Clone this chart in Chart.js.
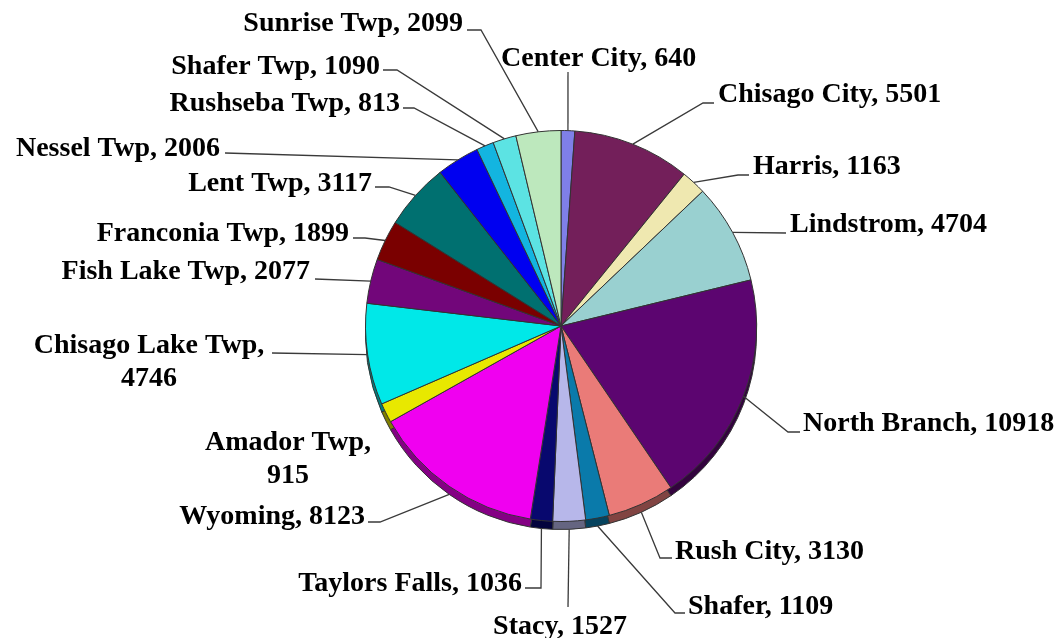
<!DOCTYPE html>
<html>
<head>
<meta charset="utf-8">
<title>Chisago County population</title>
<script src="https://cdn.jsdelivr.net/npm/chart.js@4.4.1/dist/chart.umd.min.js"></script>
<style>
  html, body { margin: 0; padding: 0; background: #fff; }
  canvas { display: block; }
</style>
</head>
<body>
<canvas id="myChart" width="1062" height="638"></canvas>
<script>
const places = ["Center City","Chisago City","Harris","Lindstrom","North Branch","Rush City","Shafer",
"Stacy","Taylors Falls","Wyoming","Amador Twp","Chisago Lake Twp","Fish Lake Twp","Franconia Twp",
"Lent Twp","Nessel Twp","Rushseba Twp","Shafer Twp","Sunrise Twp"];

const population = [640,5501,1163,4704,10918,3130,1109,1527,1036,8123,915,4746,2077,1899,3117,2006,813,1090,2099];

const sliceColors = ['#7f7fe8','#731f5a','#efe8b0','#99d0d0','#5c0570','#ea7b78','#0a7aaa',
'#b7b7ea','#08086e','#f000f0','#e8e800','#00e8e8','#72067a','#7a0000',
'#007070','#0000f0','#13b5e0','#5ce3e3','#bde8bd'];

// text position (baseline), alignment and the bend points of each leader line
const labelLayout = [
    {x:501, y:66,  align:'left',   line:[[568,72]]},
    {x:718, y:102, align:'left',   line:[[714,103],[703,103]]},
    {x:753, y:174, align:'left',   line:[[749,175],[738,175]]},
    {x:790, y:232, align:'left',   line:[[786,233]]},
    {x:803, y:431, align:'left',   line:[[800,432],[788,432]]},
    {x:675, y:559, align:'left',   line:[[672,558],[660,558]]},
    {x:688, y:614, align:'left',   line:[[685,613],[675,613]]},
    {x:560, y:634, align:'center', line:[[568,607]]},
    {x:522, y:591, align:'right',  line:[[525,588],[541,588]]},
    {x:365, y:524, align:'right',  line:[[368,522],[380,522]]},
    {x:288, y:450, align:'center', wrap:true},
    {x:149, y:353, align:'center', wrap:true, line:[[272,353]]},
    {x:310, y:279, align:'right',  line:[[315,279]]},
    {x:349, y:241, align:'right',  line:[[353,238],[365,238]]},
    {x:372, y:191, align:'right',  line:[[375,187],[389,187]]},
    {x:220, y:156, align:'right',  line:[[225,153]]},
    {x:400, y:111, align:'right',  line:[[403,108],[414,108]]},
    {x:380, y:74,  align:'right',  line:[[383,70],[397,70]]},
    {x:463, y:31,  align:'right',  line:[[467,30],[481,30]]}
];

const DEPTH = 8;

function darken(hex){
    let r = parseInt(hex.substr(1,2),16);
    let g = parseInt(hex.substr(3,2),16);
    let b = parseInt(hex.substr(5,2),16);
    return `rgb(${Math.round(r*0.55)},${Math.round(g*0.55)},${Math.round(b*0.55)})`;
}

// side wall under the pie, so it looks a bit 3d
const sideWall = {
    id: 'sideWall',
    beforeDatasetsDraw(chart){
        const ctx = chart.ctx;
        const arcs = chart.getDatasetMeta(0).data;
        ctx.save();
        for(let i=0;i<arcs.length;i++){
            let a = arcs[i];
            ctx.beginPath();
            ctx.moveTo(a.x, a.y + DEPTH);
            ctx.arc(a.x, a.y + DEPTH, a.outerRadius, a.startAngle, a.endAngle);
            ctx.closePath();
            ctx.fillStyle = darken(sliceColors[i]);
            ctx.fill();
            ctx.strokeStyle = '#333';
            ctx.lineWidth = 1;
            ctx.stroke();
        }
        ctx.restore();
    }
};

const outLabels = {
    id: 'outLabels',
    afterDraw(chart){
        const ctx = chart.ctx;
        const arcs = chart.getDatasetMeta(0).data;
        ctx.save();
        ctx.font = 'bold 28px "Liberation Serif"';
        ctx.fillStyle = '#000';
        ctx.textBaseline = 'alphabetic';
        for(let i=0;i<arcs.length;i++){
            let a = arcs[i];
            let lay = labelLayout[i];
            let mid = (a.startAngle + a.endAngle)/2;
            let px = a.x + Math.cos(mid)*a.outerRadius;
            let py = a.y + Math.sin(mid)*a.outerRadius;
            if(Math.sin(mid) > 0.5){
                py += DEPTH;
            }
            if(lay.line){
                ctx.beginPath();
                ctx.moveTo(lay.line[0][0], lay.line[0][1]);
                for(let k=1;k<lay.line.length;k++){
                    ctx.lineTo(lay.line[k][0], lay.line[k][1]);
                }
                ctx.lineTo(px, py);
                ctx.strokeStyle = '#3a3a3a';
                ctx.lineWidth = 1.3;
                ctx.stroke();
            }
            let lines;
            if(lay.wrap){
                lines = [places[i] + ',', String(population[i])];
            }else{
                lines = [places[i] + ', ' + population[i]];
            }
            ctx.textAlign = lay.align;
            for(let k=0;k<lines.length;k++){
                ctx.fillText(lines[k], lay.x, lay.y + k*33);
            }
        }
        ctx.restore();
    }
};

function drawChart(){
    const ctx = document.getElementById('myChart').getContext('2d');
    const myChart = new Chart(ctx, {
        type: 'pie',
        data: {
            labels: places,
            datasets: [{
                data: population,
                backgroundColor: sliceColors,
                borderColor: '#333',
                borderWidth: 1
            }]
        },
        options: {
            responsive: false,
            animation: false,
            layout: {
                padding: {left: 365, right: 305, top: 130, bottom: 116}
            },
            plugins: {
                legend: {display: false},
                tooltip: {enabled: false}
            }
        },
        plugins: [sideWall, outLabels]
    });
}

window.addEventListener("load", drawChart);
</script>
</body>
</html>
